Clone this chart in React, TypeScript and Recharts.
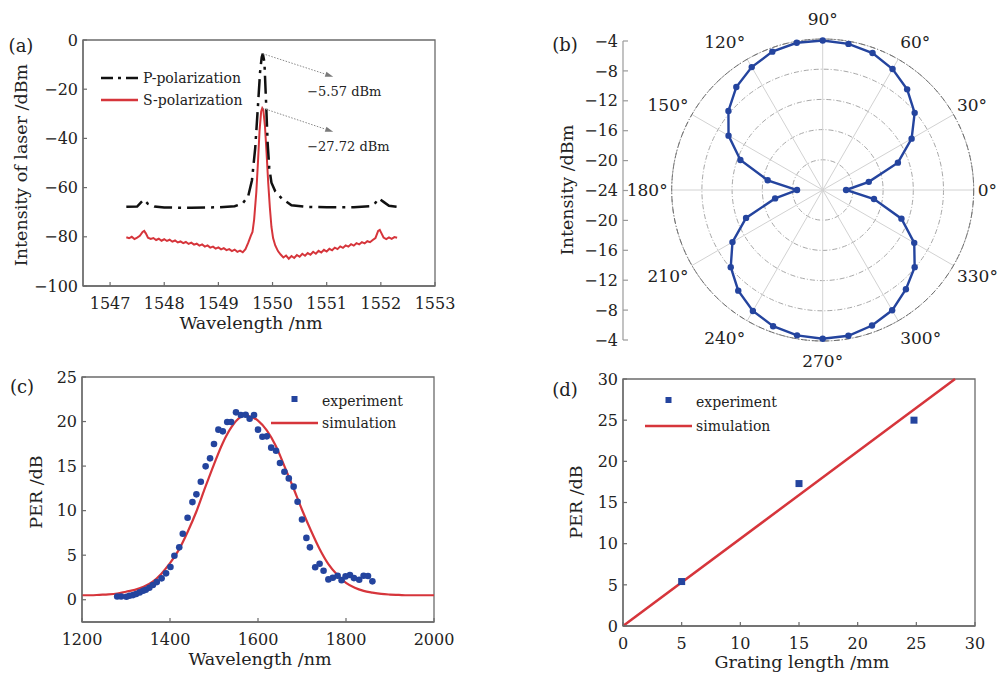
import React from "react";
import {
  LineChart,
  Line,
  XAxis,
  YAxis,
  ReferenceArea,
  ReferenceLine,
  Legend,
  ComposedChart,
  Scatter,
  RadarChart,
  Radar,
  PolarGrid,
  PolarAngleAxis,
  PolarRadiusAxis,
} from "recharts";

const FONT = '"DejaVu Serif", serif';
const INK = "#222";
const AXIS = "#6b6b6b";
const RED = "#d6353b";
const BLUE = "#24449e";

// ---------- (a) laser spectrum ----------
const aTicksX = [1547, 1548, 1549, 1550, 1551, 1552, 1553];
const aTicksY = [-100, -80, -60, -40, -20, 0];

// [wavelength nm, dBm]
const pPolarization: [number, number][] = [
  [1547.3, -67.8], [1547.5, -67.7], [1547.58, -65.8], [1547.62, -64.9], [1547.7, -66.6],
  [1547.82, -67.7], [1548.0, -68.1], [1548.5, -68.2], [1549.0, -68.0], [1549.3, -67.6],
  [1549.45, -66.4], [1549.55, -63.5], [1549.62, -57.0], [1549.68, -44.0], [1549.73, -27.0],
  [1549.77, -13.0], [1549.8, -7.0], [1549.82, -5.57], [1549.85, -9.0], [1549.88, -25.0],
  [1549.91, -42.0], [1549.94, -52.0], [1549.98, -58.0], [1550.05, -61.5], [1550.17, -64.4],
  [1550.35, -67.2], [1550.6, -67.8], [1551.0, -68.0], [1551.5, -68.0], [1551.8, -67.6],
  [1551.9, -66.2], [1551.96, -64.4], [1552.05, -65.8], [1552.15, -67.4], [1552.3, -67.8],
];

const sPolarization: [number, number][] = [
  [1547.3, -80.2], [1547.35, -80.6], [1547.4, -80.0], [1547.45, -80.9], [1547.5, -80.3],
  [1547.55, -79.6], [1547.6, -78.0], [1547.63, -77.6], [1547.66, -78.6], [1547.7, -80.4],
  [1547.75, -80.9], [1547.8, -80.5], [1547.85, -81.3], [1547.9, -80.8], [1547.95, -81.6],
  [1548.0, -81.0], [1548.05, -81.7], [1548.1, -81.2], [1548.15, -82.0], [1548.2, -81.5],
  [1548.25, -82.3], [1548.3, -81.9], [1548.35, -82.6], [1548.4, -82.1], [1548.45, -82.9],
  [1548.5, -82.4], [1548.55, -83.2], [1548.6, -82.8], [1548.65, -83.6], [1548.7, -83.1],
  [1548.75, -84.0], [1548.8, -83.5], [1548.85, -84.4], [1548.9, -84.0], [1548.95, -84.8],
  [1549.0, -84.3], [1549.05, -85.1], [1549.1, -84.6], [1549.15, -85.4], [1549.2, -85.0],
  [1549.25, -85.8], [1549.3, -85.2], [1549.35, -86.1], [1549.4, -85.6], [1549.45, -86.3],
  [1549.5, -85.0], [1549.55, -82.5], [1549.6, -79.5], [1549.63, -78.0], [1549.66, -73.0],
  [1549.7, -62.0], [1549.73, -50.0], [1549.76, -37.0], [1549.79, -29.0], [1549.81, -27.72],
  [1549.83, -28.5], [1549.86, -35.0], [1549.89, -46.0], [1549.92, -58.0], [1549.95, -68.0],
  [1549.98, -76.0], [1550.01, -80.5], [1550.05, -83.5], [1550.1, -85.8], [1550.15, -87.2],
  [1550.2, -88.4], [1550.25, -87.6], [1550.3, -88.9], [1550.35, -87.8], [1550.4, -88.6],
  [1550.45, -87.4], [1550.5, -88.1], [1550.55, -86.9], [1550.6, -87.7], [1550.65, -86.6],
  [1550.7, -87.3], [1550.75, -86.1], [1550.8, -86.9], [1550.85, -85.7], [1550.9, -86.4],
  [1550.95, -85.3], [1551.0, -86.0], [1551.05, -84.9], [1551.1, -85.5], [1551.15, -84.4],
  [1551.2, -85.0], [1551.25, -83.9], [1551.3, -84.5], [1551.35, -83.5], [1551.4, -84.0],
  [1551.45, -83.0], [1551.5, -83.6], [1551.55, -82.6], [1551.6, -83.1], [1551.65, -82.2],
  [1551.7, -82.7], [1551.75, -81.8], [1551.8, -82.2], [1551.85, -81.3], [1551.9, -80.5],
  [1551.95, -77.6], [1551.98, -77.2], [1552.01, -78.5], [1552.05, -80.3], [1552.1, -80.9],
  [1552.15, -80.2], [1552.2, -80.8], [1552.25, -80.1], [1552.3, -80.4],
];

// peak callouts: [peak nm, peak dBm, arrow end nm, arrow end dBm, text]
const peakNotes: [number, number, number, number, string][] = [
  [1549.82, -5.57, 1551.12, -14.9, "\u22125.57 dBm"],
  [1549.82, -27.72, 1551.12, -37.3, "\u221227.72 dBm"],
];

// ---------- (b) polar pattern ----------
const polarDeg = [
  0, 10, 20, 30, 40, 50, 60, 70, 80, 90, 100, 110, 120, 130, 140, 150, 160, 170,
  180, 190, 200, 210, 220, 230, 240, 250, 260, 270, 280, 290, 300, 310, 320, 330, 340, 350,
];
const polarDbm = [
  -20.9, -17.8, -13.4, -10.4, -8.1, -6.6, -5.5, -4.7, -4.35, -4.2, -4.2, -4.5, -5.2, -6.2,
  -7.7, -9.6, -12.4, -16.6, -20.6, -17.6, -13.2, -10.2, -8.1, -6.6, -5.5, -4.8, -4.45, -4.3,
  -4.4, -4.9, -5.6, -6.85, -8.1, -10.0, -12.9, -17.1,
];
const spokeDeg = [0, 30, 60, 90, 120, 150, 180, 210, 240, 270, 300, 330];
const sideTicks = [-20, -16, -12, -8, -4, 0, 4, 8, 12, 16, 20];

// ---------- (c) PER vs wavelength ----------
const simNm = [
  1200, 1220, 1240, 1260, 1280, 1300, 1320, 1340, 1360, 1380, 1400, 1420, 1440, 1460, 1480,
  1500, 1520, 1540, 1560, 1570, 1580, 1600, 1620, 1640, 1660, 1680, 1700, 1720, 1740, 1760,
  1780, 1800, 1820, 1840, 1860, 1880, 1900, 1920, 1940, 1960, 1980, 2000,
];
const simPer = [
  0.5, 0.5, 0.55, 0.6, 0.7, 0.9, 1.1, 1.45, 2.0, 2.9, 4.1, 5.6, 7.6, 9.9, 12.6, 15.2, 17.6,
  19.4, 20.5, 20.7, 20.6, 20.1, 19.0, 17.3, 15.0, 12.6, 10.1, 7.8, 5.7, 4.0, 2.8, 1.9, 1.35,
  1.0, 0.8, 0.65, 0.58, 0.54, 0.5, 0.5, 0.5, 0.5,
];
const expNm = [
  1280, 1289, 1301, 1308, 1316, 1323, 1331, 1339, 1345, 1353, 1361, 1370, 1381, 1391, 1401,
  1410, 1421, 1429, 1440, 1451, 1460, 1470, 1481, 1491, 1500, 1510, 1520, 1530, 1539, 1550,
  1561, 1572, 1581, 1591, 1600, 1610, 1620, 1630, 1641, 1650, 1660, 1670, 1681, 1690, 1700,
  1710, 1718, 1730, 1740, 1749, 1760, 1770, 1781, 1790, 1799, 1809, 1818, 1830, 1840, 1850, 1860,
];
const expPer = [
  0.37, 0.37, 0.34, 0.45, 0.52, 0.64, 0.82, 1.01, 1.12, 1.35, 1.65, 1.98, 2.4, 2.96, 3.67,
  4.94, 5.88, 7.41, 9.2, 10.96, 11.83, 13.25, 14.97, 15.87, 17.48, 19.09, 18.9, 19.95, 19.95,
  21.03, 20.73, 20.77, 20.32, 20.73, 19.09, 18.3, 18.34, 17.07, 16.73, 15.35, 14.37, 13.62,
  12.69, 11.0, 9.0, 6.94, 5.88, 3.64, 4.04, 3.26, 2.28, 2.47, 2.69, 2.2, 2.62, 2.77, 2.43,
  2.25, 2.69, 2.66, 2.06,
];

// ---------- (d) PER vs grating length ----------
const lenMm = [5, 15, 24.8];
const lenPer = [5.4, 17.3, 25.0];
const fitMm = [0, 28.3];
const fitPer = [0, 30];

const minus = (v: number) => (v < 0 ? `\u2212${Math.abs(v)}` : `${v}`);

const tickText = { fill: INK, fontSize: 16, fontFamily: FONT };
const axisLine = { stroke: AXIS, strokeWidth: 1.3 };
const tickLine = { stroke: AXIS, strokeWidth: 1.2 };

type KeyItem = { label: string; kind: "line" | "dashdot" | "square"; color: string };

function KeyBox({ items, mark, gap, row }: { items: KeyItem[]; mark: number; gap: number; row: number }) {
  return (
    <div style={{ fontFamily: FONT, fontSize: 14, color: INK, lineHeight: 1 }}>
      {items.map((it) => (
        <div key={it.label} style={{ display: "flex", alignItems: "center", height: row }}>
          <svg width={mark} height={row} style={{ marginRight: gap, display: "block" }}>
            {it.kind === "square" ? (
              <rect x={mark / 2 - 3} y={row / 2 - 5} width={6} height={6} fill={it.color} />
            ) : (
              <line
                x1={0}
                x2={mark}
                y1={row / 2}
                y2={row / 2}
                stroke={it.color}
                strokeWidth={2.4}
                strokeDasharray={it.kind === "dashdot" ? "12 5 3 5" : undefined}
              />
            )}
          </svg>
          <span>{it.label}</span>
        </div>
      ))}
    </div>
  );
}

function Arrow(props: any) {
  const { x1, y1, x2, y2, note } = props;
  const ang = Math.atan2(y2 - y1, x2 - x1);
  const hx = x2 - 8 * Math.cos(ang);
  const hy = y2 - 8 * Math.sin(ang);
  const nx = -Math.sin(ang) * 2.6;
  const ny = Math.cos(ang) * 2.6;
  return (
    <g>
      <line x1={x1} y1={y1} x2={hx} y2={hy} stroke="#8a8a8a" strokeWidth={1} strokeDasharray="1.5 1.5" />
      <polygon points={`${x2},${y2} ${hx + nx},${hy + ny} ${hx - nx},${hy - ny}`} fill="#7a7a7a" />
      <text x={x2 - 26} y={y2 + 19} fill={INK} fontSize={13} fontFamily={FONT}>
        {note}
      </text>
    </g>
  );
}

function Caption({ x, y, text, rotate = 0, size = 17.5 }: { x: number; y: number; text: string; rotate?: number; size?: number }) {
  return (
    <div
      style={{
        position: "absolute",
        left: x,
        top: y,
        transform: `translate(-50%, -50%) rotate(${rotate}deg)`,
        whiteSpace: "nowrap",
        fontFamily: FONT,
        fontSize: size,
        color: INK,
        lineHeight: 1,
      }}
    >
      {text}
    </div>
  );
}

function PanelA() {
  const p = pPolarization.map(([x, y]) => ({ x, y }));
  const s = sPolarization.map(([x, y]) => ({ x, y }));
  return (
    <div style={{ position: "absolute", left: 0, top: 0 }}>
      <LineChart width={462} height={320} margin={{ top: 40, right: 27, bottom: 4, left: 33 }}>
        <ReferenceArea x1={1546.5} x2={1553} y1={-100} y2={0} fill="none" stroke={AXIS} strokeWidth={1.3} ifOverflow="visible" />
        <XAxis
          type="number"
          dataKey="x"
          domain={[1546.5, 1553]}
          ticks={aTicksX}
          interval={0}
          allowDataOverflow
          height={30}
          tickSize={-4}
          tickMargin={16}
          tick={tickText}
          axisLine={axisLine}
          tickLine={tickLine}
        />
        <YAxis
          type="number"
          dataKey="y"
          domain={[-100, 0]}
          ticks={aTicksY}
          interval={0}
          width={50}
          tickSize={-4}
          tickMargin={9}
          tick={tickText}
          tickFormatter={minus}
          axisLine={axisLine}
          tickLine={tickLine}
        />
        <Line data={s} dataKey="y" type="linear" stroke={RED} strokeWidth={2} dot={false} isAnimationActive={false} />
        <Line
          data={p}
          dataKey="y"
          type="linear"
          stroke="#111"
          strokeWidth={2.5}
          strokeDasharray="18 6 3 6"
          dot={false}
          isAnimationActive={false}
        />
        {peakNotes.map(([px, py, ex, ey, note]) => (
          <ReferenceLine
            key={note}
            segment={[
              { x: px, y: py },
              { x: ex, y: ey },
            ]}
            ifOverflow="visible"
            shape={(props: any) => <Arrow {...props} note={note} />}
          />
        ))}
        <Legend
          layout="vertical"
          align="center"
          verticalAlign="middle"
          wrapperStyle={{ left: 101, top: 67, width: "auto" }}
          content={() => (
            <KeyBox
              mark={37}
              gap={5}
              row={22}
              items={[
                { label: "P-polarization", kind: "dashdot", color: "#111" },
                { label: "S-polarization", kind: "line", color: RED },
              ]}
            />
          )}
        />
      </LineChart>
    </div>
  );
}

const CX = 222.7;
const CY = 190;
const R = 151;

function AngleTick(props: any) {
  const deg = Number(props.payload?.value);
  if (deg % 30 !== 0 || deg >= 360) return null;
  const t = (deg * Math.PI) / 180;
  const c = Math.cos(t);
  const s = Math.sin(t);
  const anchor = c > 0.01 ? "start" : c < -0.01 ? "end" : "middle";
  return (
    <text
      x={CX + (R + 4) * c}
      y={CY - (R + 20) * s}
      textAnchor={anchor}
      dominantBaseline="central"
      fill={INK}
      fontSize={17}
      fontFamily={FONT}
    >
      {deg}°
    </text>
  );
}

function PanelB() {
  const data = polarDeg.map((deg, i) => ({ deg, dbm: polarDbm[i] }));
  const side = sideTicks.map((v) => ({ v }));
  return (
    <>
      <div style={{ position: "absolute", left: 540, top: 0 }}>
        <LineChart width={95} height={374} data={side} margin={{ top: 41, right: 5, bottom: 34, left: 33 }}>
          <XAxis dataKey="v" hide />
          <YAxis
            type="number"
            dataKey="v"
            domain={[-20, 20]}
            ticks={sideTicks}
            interval={0}
            width={50}
            tickSize={-5}
            tickMargin={10}
            tick={tickText}
            tickFormatter={(v: number) => minus(Math.abs(v) - 24)}
            axisLine={{ stroke: "#9a9a9a", strokeWidth: 1.2 }}
            tickLine={{ stroke: "#9a9a9a", strokeWidth: 1.2 }}
          />
        </LineChart>
      </div>
      <div style={{ position: "absolute", left: 600, top: 0 }}>
        <RadarChart
          width={398}
          height={374}
          cx={CX}
          cy={CY}
          innerRadius={0}
          outerRadius={R}
          startAngle={0}
          endAngle={360}
          data={data}
          margin={{ top: 0, right: 0, bottom: 0, left: 0 }}
        >
          <PolarGrid gridType="circle" radialLines={false} stroke="#a8a8a8" strokeDasharray="5 2 1 2" />
          <PolarGrid gridType="circle" polarRadius={[]} polarAngles={spokeDeg} stroke="#d2d2d2" />
          <PolarAngleAxis
            dataKey="deg"
            type="number"
            domain={[0, 360]}
            tickCount={13}
            tick={(p: any) => <AngleTick {...p} />}
            tickLine={false}
            axisLineType="circle"
            axisLine={{ stroke: "#6e6e6e", strokeDasharray: "6 2 1 2" }}
          />
          <PolarRadiusAxis type="number" domain={[-24, -4]} tickCount={6} tick={false} axisLine={false} />
          <Radar
            dataKey="dbm"
            stroke={BLUE}
            strokeWidth={2.4}
            fill="none"
            fillOpacity={0}
            dot={(p: any) => <circle key={`d${p.index}`} cx={p.cx} cy={p.cy} r={3.2} fill={BLUE} />}
            isAnimationActive={false}
          />
        </RadarChart>
      </div>
    </>
  );
}

const perKey: KeyItem[] = [
  { label: "experiment", kind: "square", color: BLUE },
  { label: "simulation", kind: "line", color: RED },
];

function PanelC() {
  const sim = simNm.map((x, i) => ({ x, y: simPer[i] }));
  const exp = expNm.map((x, i) => ({ x, y: expPer[i] }));
  return (
    <div style={{ position: "absolute", left: 0, top: 350 }}>
      <ComposedChart width={466} height={310} margin={{ top: 27, right: 32, bottom: 8, left: 32 }}>
        <ReferenceArea x1={1200} x2={2000} y1={-2.5} y2={25} fill="none" stroke={AXIS} strokeWidth={1.3} ifOverflow="visible" />
        <XAxis
          type="number"
          dataKey="x"
          domain={[1200, 2000]}
          ticks={[1200, 1400, 1600, 1800, 2000]}
          interval={0}
          height={30}
          tickSize={-4}
          tickMargin={16}
          tick={tickText}
          axisLine={axisLine}
          tickLine={tickLine}
        />
        <YAxis
          type="number"
          dataKey="y"
          domain={[-2.5, 25]}
          ticks={[0, 5, 10, 15, 20, 25]}
          interval={0}
          width={50}
          tickSize={-4}
          tickMargin={9}
          tick={tickText}
          axisLine={axisLine}
          tickLine={tickLine}
        />
        <Line data={sim} dataKey="y" type="monotone" stroke={RED} strokeWidth={2.2} dot={false} isAnimationActive={false} />
        <Scatter
          data={exp}
          dataKey="y"
          fill={BLUE}
          isAnimationActive={false}
          shape={(p: any) => <circle cx={p.cx} cy={p.cy} r={3.3} fill={BLUE} />}
        />
        <Legend
          layout="vertical"
          align="center"
          verticalAlign="middle"
          wrapperStyle={{ left: 271, top: 40, width: "auto" }}
          content={() => <KeyBox mark={47} gap={4} row={22} items={perKey} />}
        />
      </ComposedChart>
    </div>
  );
}

function PanelD() {
  const fit = fitMm.map((x, i) => ({ x, y: fitPer[i] }));
  const exp = lenMm.map((x, i) => ({ x, y: lenPer[i] }));
  return (
    <div style={{ position: "absolute", left: 540, top: 350 }}>
      <ComposedChart width={455} height={310} margin={{ top: 29, right: 20, bottom: 4, left: 33 }}>
        <ReferenceArea x1={0} x2={30} y1={0} y2={30} fill="none" stroke={AXIS} strokeWidth={1.3} ifOverflow="visible" />
        <XAxis
          type="number"
          dataKey="x"
          domain={[0, 30]}
          ticks={[0, 5, 10, 15, 20, 25, 30]}
          interval={0}
          height={30}
          tickSize={-4}
          tickMargin={16}
          tick={tickText}
          axisLine={axisLine}
          tickLine={tickLine}
        />
        <YAxis
          type="number"
          dataKey="y"
          domain={[0, 30]}
          ticks={[0, 5, 10, 15, 20, 25, 30]}
          interval={0}
          width={50}
          tickSize={-4}
          tickMargin={9}
          tick={tickText}
          axisLine={axisLine}
          tickLine={tickLine}
        />
        <Line data={fit} dataKey="y" type="linear" stroke={RED} strokeWidth={2.5} dot={false} isAnimationActive={false} />
        <Scatter
          data={exp}
          dataKey="y"
          fill={BLUE}
          isAnimationActive={false}
          shape={(p: any) => <rect x={p.cx - 3.5} y={p.cy - 3.5} width={7} height={7} fill={BLUE} />}
        />
        <Legend
          layout="vertical"
          align="center"
          verticalAlign="middle"
          wrapperStyle={{ left: 105, top: 40, width: "auto" }}
          content={() => <KeyBox mark={47} gap={4} row={24} items={perKey} />}
        />
      </ComposedChart>
    </div>
  );
}

export default function App() {
  return (
    <div
      style={{
        position: "absolute",
        left: 0,
        top: 0,
        width: 998,
        height: 674,
        overflow: "hidden",
        background: "#fff",
        fontFamily: FONT,
      }}
    >
      <PanelA />
      <PanelB />
      <PanelC />
      <PanelD />
      <Caption x={21} y={46} text="(a)" size={18} />
      <Caption x={22} y={165} text="Intensity of laser /dBm" rotate={-90} />
      <Caption x={251} y={324} text="Wavelength /nm" />
      <Caption x={565} y={45} text="(b)" size={18} />
      <Caption x={568} y={190} text="Intensity /dBm" rotate={-90} />
      <Caption x={22} y={387} text="(c)" size={18} />
      <Caption x={37} y={492} text="PER /dB" rotate={-90} />
      <Caption x={260} y={660} text="Wavelength /nm" />
      <Caption x={565} y={390} text="(d)" size={18} />
      <Caption x={577} y={502} text="PER /dB" rotate={-90} />
      <Caption x={802} y={663} text="Grating length /mm" />
    </div>
  );
}
